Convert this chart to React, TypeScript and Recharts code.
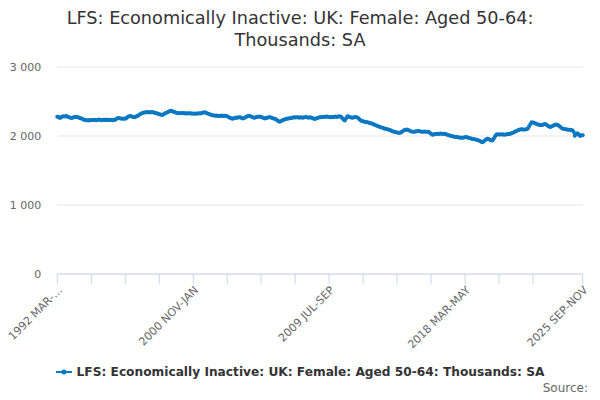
import { LineChart, Line, XAxis, YAxis, CartesianGrid, Legend } from "recharts"

const seriesName = "LFS: Economically Inactive: UK: Female: Aged 50-64: Thousands: SA"
const titleLines = ["LFS: Economically Inactive: UK: Female: Aged 50-64:", "Thousands: SA"]
const monthNames = ["JAN", "FEB", "MAR", "APR", "MAY", "JUN", "JUL", "AUG", "SEP", "OCT", "NOV", "DEC"]
const firstYear = 1992
const firstMonth = 2 // MAR-MAY

// rolling three-month values, thousands, from 1992 MAR-MAY to 2025 SEP-NOV
const inactive = [
  2280, 2275, 2262, 2270, 2282, 2286, 2284, 2289, 2278, 2270,
  2266, 2261, 2268, 2274, 2279, 2276, 2270, 2262, 2256, 2250,
  2240, 2232, 2227, 2230, 2226, 2232, 2229, 2233, 2236, 2231,
  2228, 2234, 2238, 2232, 2229, 2236, 2233, 2238, 2230, 2234,
  2231, 2236, 2229, 2233, 2232, 2246, 2258, 2262, 2255, 2252,
  2249, 2253, 2250, 2262, 2278, 2288, 2291, 2284, 2276, 2272,
  2280, 2290, 2298, 2310, 2322, 2332, 2338, 2344, 2340, 2347,
  2345, 2341, 2348, 2343, 2339, 2334, 2330, 2322, 2316, 2310,
  2305, 2312, 2324, 2334, 2340, 2352, 2360, 2365, 2358, 2350,
  2345, 2338, 2334, 2330, 2328, 2332, 2329, 2333, 2327, 2330,
  2326, 2331, 2328, 2324, 2327, 2322, 2326, 2323, 2328, 2325,
  2330, 2336, 2341, 2343, 2334, 2326, 2318, 2312, 2306, 2300,
  2296, 2293, 2297, 2290, 2294, 2291, 2296, 2289, 2293, 2290,
  2285, 2276, 2266, 2258, 2250, 2256, 2262, 2268, 2265, 2270,
  2273, 2262, 2254, 2262, 2272, 2282, 2290, 2293, 2285, 2276,
  2268, 2265, 2272, 2280, 2278, 2283, 2276, 2268, 2260, 2254,
  2260, 2268, 2272, 2273, 2264, 2258, 2250, 2245, 2232, 2216,
  2205, 2215, 2226, 2235, 2240, 2246, 2252, 2255, 2259, 2262,
  2266, 2270, 2268, 2273, 2270, 2265, 2272, 2268, 2266, 2271,
  2275, 2270, 2266, 2273, 2268, 2260, 2252, 2245, 2254, 2262,
  2268, 2273, 2270, 2276, 2280, 2278, 2283, 2279, 2276, 2272,
  2275, 2273, 2278, 2282, 2276, 2283, 2288, 2280, 2262, 2240,
  2225, 2258, 2288, 2282, 2272, 2268, 2265, 2270, 2276, 2273,
  2265, 2248, 2230, 2216, 2212, 2208, 2204, 2201, 2196, 2190,
  2184, 2178, 2170, 2160, 2152, 2145, 2138, 2130, 2124, 2118,
  2110, 2105, 2100, 2096, 2090, 2082, 2074, 2066, 2060, 2056,
  2050, 2047, 2045, 2054, 2066, 2078, 2088, 2094, 2090, 2082,
  2074, 2066, 2060, 2062, 2067, 2070, 2071, 2068, 2065, 2063,
  2062, 2064, 2060, 2063, 2060, 2048, 2032, 2018, 2022, 2028,
  2031, 2033, 2030, 2035, 2031, 2028, 2033, 2030, 2022, 2014,
  2008, 2002, 1996, 1992, 1988, 1986, 1984, 1980, 1977, 1976,
  1975, 1979, 1982, 1984, 1978, 1972, 1966, 1960, 1956, 1952,
  1948, 1946, 1940, 1930, 1920, 1910, 1918, 1935, 1950, 1960,
  1955, 1946, 1940, 1936, 1962, 1995, 2023, 2026, 2022, 2020,
  2024, 2020, 2018, 2022, 2025, 2028, 2030, 2036, 2044, 2052,
  2060, 2070, 2080, 2088, 2094, 2097, 2095, 2093, 2095, 2098,
  2110, 2140, 2175, 2200, 2196, 2188, 2180, 2170, 2166, 2160,
  2158, 2160, 2168, 2175, 2166, 2152, 2140, 2130, 2136, 2145,
  2155, 2162, 2165, 2158, 2145, 2130, 2112, 2105, 2100, 2097,
  2095, 2092, 2090, 2088, 2085, 2060, 2005, 2030, 2040, 2020,
  2000, 2012, 2010,
]

const yTicks = [0, 1000, 2000, 3000]
const xTickStep = 26
const xLabelStep = 104

const lineColor = "#0a78c2"
const font = "'DejaVu Sans', sans-serif"

const periods = inactive.map((_, i) => {
  const m = firstMonth + i
  const year = firstYear + Math.floor(m / 12)
  const a = m % 12
  return `${year} ${monthNames[a]}-${monthNames[(a + 2) % 12]}`
})

const data = inactive.map((v, i) => ({ idx: i, period: periods[i], value: v }))
const lastIdx = inactive.length - 1

const xTicks: number[] = []
for (let k = 0; k <= lastIdx - xTickStep; k += xTickStep) xTicks.push(k)
xTicks.push(lastIdx)

const fmtThousands = (v: number) => String(v).replace(/\B(?=(\d{3})+(?!\d))/g, " ")

const XTick = (props: any) => {
  const { x, y, payload } = props
  const i = payload.value
  if (i % xLabelStep !== 0 && i !== lastIdx) return <g />
  let label = periods[i]
  if (i === 0) label = label.slice(0, 9) + "…"
  const tx = x + 3
  const ty = y + 2
  return (
    <text x={tx} y={ty} dy="0.35em" textAnchor="end" fill="#666" fontSize={11} fontFamily={font}
      transform={`rotate(-45, ${tx}, ${ty})`}>
      {label}
    </text>
  )
}

const LegendContent = () => (
  <div style={{ display: "flex", justifyContent: "center", alignItems: "center", fontFamily: font, fontSize: 12.2, fontWeight: "bold", color: "#333" }}>
    <svg width={16} height={12}>
      <line x1={0} y1={6} x2={16} y2={6} stroke={lineColor} strokeWidth={2} />
      <circle cx={8} cy={6} r={2.5} fill={lineColor} />
    </svg>
    <span style={{ marginLeft: 5 }}>{seriesName}</span>
  </div>
)

export default function App() {
  return (
    <div style={{ position: "absolute", left: 0, top: 0, width: 600, height: 400, background: "#fff", fontFamily: font }}>
      <div style={{ position: "absolute", top: 7, left: 0, width: 600, textAlign: "center", fontSize: 17.7, lineHeight: "22px", color: "#333" }}>
        {titleLines[0]}
        <br />
        {titleLines[1]}
      </div>
      <LineChart width={600} height={400} data={data} margin={{ top: 67, right: 17.3, left: 0, bottom: 0 }}>
        <CartesianGrid vertical={false} stroke="#e6e6e6" />
        <XAxis
          dataKey="idx"
          type="number"
          domain={[0, lastIdx]}
          ticks={xTicks}
          interval={0}
          axisLine={{ stroke: "#ccd6eb" }}
          tickLine={{ stroke: "#ccd6eb" }}
          tickSize={10}
          tickMargin={2}
          tick={<XTick />}
          height={126}
        />
        <YAxis
          domain={[0, 3000]}
          ticks={yTicks}
          tickFormatter={fmtThousands}
          axisLine={false}
          tickLine={false}
          tickSize={0}
          tickMargin={16}
          width={57.3}
          tick={{ fill: "#666", fontSize: 11, fontFamily: font }}
        />
        <Legend
          layout="vertical"
          align="center"
          verticalAlign="middle"
          content={<LegendContent />}
          wrapperStyle={{ top: 365, left: 0, width: 600 }}
        />
        <Line
          type="linear"
          dataKey="value"
          name={seriesName}
          stroke={lineColor}
          strokeWidth={2}
          dot={{ r: 2, fill: lineColor, stroke: "none" }}
          isAnimationActive={false}
        />
      </LineChart>
      <div style={{ position: "absolute", top: 381, right: 12, fontSize: 12, color: "#666" }}>Source:</div>
    </div>
  )
}
